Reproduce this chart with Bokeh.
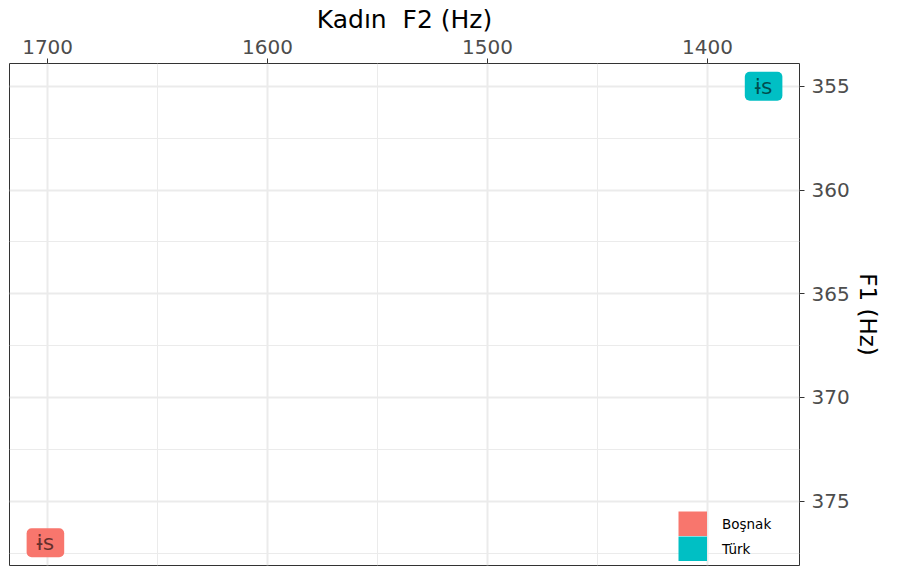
from bokeh.plotting import figure
from bokeh.models import Range1d, FixedTicker, Legend, LegendItem, ColumnDataSource
from bokeh.core.properties import value
from bokeh.embed import file_html
from bokeh.resources import INLINE

# data
groups = ["Boşnak", "Türk"]
vowel_labels = ["ɨs", "ɨs"]
f2_values = [1701, 1374.5]
f1_values = [377.0, 355.0]
fill_colors = ["#F8766D", "#00BFC4"]
x_ticks = [1700, 1600, 1500, 1400]
x_minor = [1750, 1650, 1550, 1450, 1350]
y_ticks = [355, 360, 365, 370, 375]
y_minor = [352.5, 357.5, 362.5, 367.5, 372.5, 377.5]

FONT = "DejaVu Sans"

xr = max(f2_values) - min(f2_values)
yr = max(f1_values) - min(f1_values)
p = figure(width=883, height=568, output_backend="svg", toolbar_location=None,
           x_range=Range1d(max(f2_values) + 0.05 * xr, min(f2_values) - 0.05 * xr),
           y_range=Range1d(max(f1_values) + 0.05 * yr, min(f1_values) - 0.05 * yr),
           x_axis_location="above", y_axis_location="right",
           min_border_left=9, min_border_bottom=3, min_border_top=63, min_border_right=83)

p.background_fill_color = "white"
p.border_fill_color = "white"
p.outline_line_color = "#333333"
p.outline_line_width = 1

p.xaxis.ticker = FixedTicker(ticks=x_ticks, minor_ticks=x_minor)
p.yaxis.ticker = FixedTicker(ticks=y_ticks, minor_ticks=y_minor)
p.xgrid.ticker = p.xaxis.ticker
p.ygrid.ticker = p.yaxis.ticker

for ax in (p.xaxis[0], p.yaxis[0]):
    ax.axis_line_color = None
    ax.major_tick_line_color = "#333333"
    ax.major_tick_line_width = 1
    ax.major_tick_out = 5
    ax.major_tick_in = 0
    ax.minor_tick_line_color = None
    ax.major_label_text_font = FONT
    ax.major_label_text_font_size = "20px"
    ax.major_label_text_color = "#4D4D4D"
    ax.axis_label_text_font = FONT
    ax.axis_label_text_font_style = "normal"
    ax.axis_label_text_color = "black"

p.xaxis.major_label_standoff = 5
p.xaxis.axis_label_standoff = 3
p.xaxis.axis_label_text_font_size = "25px"
p.yaxis.major_label_standoff = 7
p.yaxis.axis_label_standoff = 2
p.yaxis.axis_label_text_font_size = "23px"

p.xaxis.axis_label = "Kadın\u00a0 F2 (Hz)"
p.yaxis.axis_label = "F1 (Hz)"

for g in (p.xgrid[0], p.ygrid[0]):
    g.grid_line_color = "#EBEBEB"
    g.grid_line_width = 2
    g.minor_grid_line_color = "#EBEBEB"
    g.minor_grid_line_width = 1

src = ColumnDataSource(dict(x=f2_values, y=f1_values, text=vowel_labels, fill=fill_colors))
p.text(x="x", y="y", text="text", source=src,
       text_align="center", text_baseline="middle",
       text_font=value(FONT), text_font_size="22px",
       text_color="black", text_alpha=0.6,
       background_fill_color="fill", border_radius=5, padding=(10, 2))

items = []
for g, c in zip(groups, fill_colors):
    # placed outside the visible ranges: only its legend swatch is seen
    r = p.line(x=[2000, 2001], y=[400, 400], line_color=c, line_width=25, line_cap="butt")
    items.append(LegendItem(label=g, renderers=[r]))

legend = Legend(items=items, location=(669, 4), orientation="vertical",
                glyph_width=29, glyph_height=25, label_height=25, spacing=0,
                padding=0, margin=0, label_standoff=15,
                label_text_font=FONT, label_text_font_size="13.5px",
                label_text_color="black",
                background_fill_alpha=0, border_line_color=None)
p.add_layout(legend, "center")

open("out.html", "w").write(file_html(p, INLINE))
